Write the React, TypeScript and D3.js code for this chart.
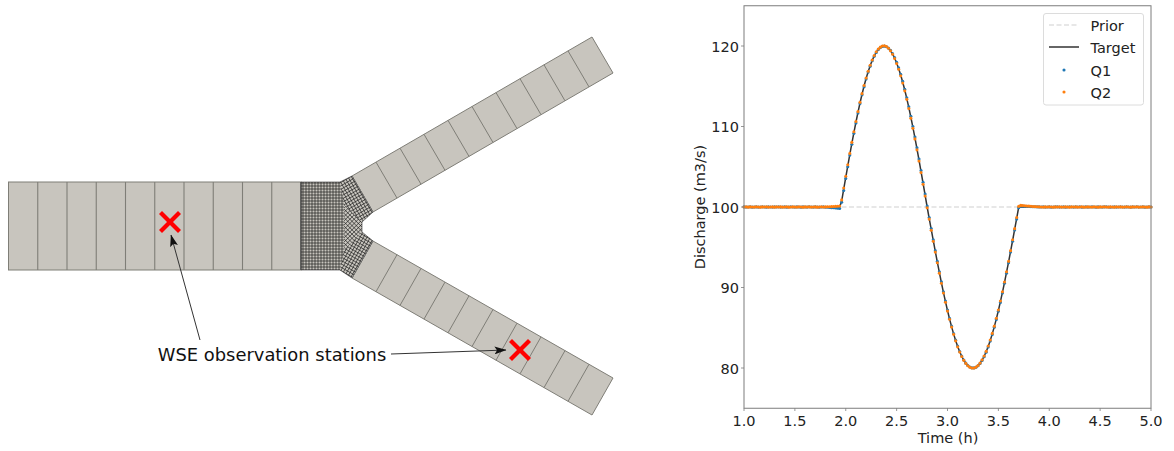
import React from "react";
import * as d3 from "d3";

// ---------- chart data ----------
const xTicks = [1.0, 1.5, 2.0, 2.5, 3.0, 3.5, 4.0, 4.5, 5.0];
const yTicks = [80, 90, 100, 110, 120];
const priorValues = [100, 100];
const priorTimes = [1, 5];
const sampleStep = 0.02;
const targetStart = [[1.0, 100], [1.94, 100]];
const targetEnd = [[3.72, 100], [5.0, 100]];
const targetCurve = [
  100.74, 102.21, 103.68, 105.12, 106.53, 107.91, 109.24, 110.53, 111.76, 112.92, 114.01, 115.03, 115.96, 116.81,
  117.56, 118.22, 118.78, 119.24, 119.59, 119.83, 119.97, 120.0, 119.91, 119.72, 119.43, 119.02, 118.51, 117.9,
  117.19, 116.39, 115.5, 114.53, 113.47, 112.35, 111.15, 109.89, 108.58, 107.22, 105.83, 104.4, 102.95, 101.48,
  100.0,
  98.6, 97.22, 95.84, 94.49, 93.16, 91.87, 90.61, 89.4, 88.24, 87.14, 86.11, 85.14, 84.24, 83.42, 82.68, 82.02,
  81.46, 80.98, 80.59, 80.3, 80.11, 80.01, 80.01, 80.11, 80.3, 80.59, 80.98, 81.46, 82.02, 82.68, 83.42, 84.24,
  85.14, 86.11, 87.14, 88.24, 89.4, 90.61, 91.87, 93.16, 94.49, 95.84, 97.22, 98.6, 100.0,
];
const q1Values = [
  100.02, 99.99, 100.0, 100.02, 99.98, 100.0, 100.01, 99.99, 100.0, 100.02, 100.0, 99.98, 100.01, 100.0, 99.99, 100.01,
  100.0, 100.02, 99.99, 100.0, 100.01, 99.98, 100.0, 100.02, 100.0, 99.99, 100.01, 100.0, 99.98, 100.01, 100.0, 99.99,
  100.02, 100.0, 99.99, 100.01, 100.0, 99.98, 100.0, 100.01, 99.97, 99.96, 99.94, 99.92, 99.9, 99.87, 99.84, 99.82,
  100.6, 102.05, 103.55, 105.0, 106.45, 107.8, 109.15, 110.45, 111.68, 112.85, 113.95, 114.95, 115.9, 116.76,
  117.5, 118.17, 118.74, 119.2, 119.55, 119.8, 119.95, 119.98, 119.9, 119.74, 119.47, 119.07, 118.58, 117.98,
  117.28, 116.48, 115.6, 114.63, 113.58, 112.46, 111.27, 110.0, 108.7, 107.35, 105.96, 104.53, 103.08, 101.6,
  100.12,
  98.7, 97.32, 95.93, 94.58, 93.25, 91.95, 90.7, 89.48, 88.31, 87.2, 86.16, 85.2, 84.29, 83.46, 82.72, 82.05,
  81.48, 81.0, 80.6, 80.31, 80.12, 80.02, 80.01, 80.1, 80.28, 80.56, 80.94, 81.41, 81.97, 82.62, 83.36, 84.17,
  85.07, 86.03, 87.06, 88.15, 89.31, 90.52, 91.78, 93.07, 94.4, 95.75, 97.13, 98.5, 99.9,
  100.14, 100.12, 100.1, 100.08, 100.06, 100.05, 100.04, 100.03, 100.02, 100.01, 100.0, 100.02, 99.99, 100.0, 100.01, 99.98,
  100.0, 100.01, 100.02, 99.99, 100.0, 100.01, 99.98, 100.0, 100.02, 100.0, 99.99, 100.01, 100.0, 100.02, 99.98, 100.0,
  100.01, 99.99, 100.0, 100.02, 100.0, 99.98, 100.01, 100.0, 99.99, 100.01, 100.02, 100.0, 99.98, 100.0, 100.01, 99.99,
  100.0, 100.02, 100.0, 99.99, 100.01, 100.0, 99.98, 100.01, 100.0, 100.02, 99.99, 100.0, 100.01, 99.98, 100.0, 100.01, 100.0,
];
const q2Values = [
  100.0, 100.02, 99.98, 100.01, 100.0, 99.99, 100.02, 100.0, 99.98, 100.01, 100.0, 100.02, 99.99, 100.0, 100.01, 99.98,
  100.02, 100.0, 100.01, 99.99, 100.0, 100.02, 99.98, 100.0, 100.01, 100.0, 99.99, 100.02, 100.0, 99.98, 100.01, 100.0,
  100.02, 99.99, 100.0, 100.01, 99.98, 100.0, 100.02, 100.0, 100.01, 100.03, 100.04, 100.05, 100.07, 100.08, 100.1, 100.12,
  100.88, 102.36, 103.82, 105.25, 106.66, 108.03, 109.35, 110.63, 111.85, 113.0, 114.08, 115.1, 116.02, 116.86,
  117.6, 118.26, 118.82, 119.28, 119.62, 119.86, 120.0, 120.03, 119.93, 119.72, 119.4, 118.98, 118.45, 117.83,
  117.11, 116.3, 115.41, 114.43, 113.37, 112.24, 111.04, 109.78, 108.46, 107.1, 105.71, 104.28, 102.83, 101.36,
  99.9,
  98.5, 97.12, 95.75, 94.4, 93.07, 91.78, 90.52, 89.32, 88.16, 87.07, 86.05, 85.08, 84.18, 83.37, 82.63, 81.98,
  81.43, 80.95, 80.57, 80.28, 80.09, 80.0, 80.0, 80.11, 80.31, 80.61, 81.01, 81.5, 82.06, 82.73, 83.47, 84.3,
  85.2, 86.18, 87.21, 88.32, 89.48, 90.69, 91.95, 93.25, 94.58, 95.93, 97.31, 98.7, 100.08,
  100.2, 100.18, 100.16, 100.13, 100.11, 100.09, 100.07, 100.05, 100.03, 100.02, 100.0, 99.99, 100.01, 100.0, 100.02, 100.0,
  99.98, 100.01, 100.0, 100.02, 99.99, 100.0, 100.01, 100.0, 99.98, 100.02, 100.0, 100.01, 99.99, 100.0, 100.02, 99.98,
  100.0, 100.01, 100.0, 99.99, 100.02, 100.0, 99.98, 100.01, 100.0, 100.02, 100.0, 99.99, 100.01, 100.0, 99.98, 100.02,
  100.0, 100.01, 99.99, 100.0, 100.02, 100.0, 99.98, 100.01, 100.0, 100.02, 99.99, 100.0, 100.01, 100.0, 99.98, 100.01, 100.0,
];
const legendLabels = ["Prior", "Target", "Q1", "Q2"];
const annotationText = "WSE observation stations";
const xLabel = "Time (h)";
const yLabel = "Discharge (m3/s)";

// ---------- schematic counts ----------
const mainCells = 10;
const branchCells = 10;
const meshPitch = 3.0;

const FONT = "'DejaVu Sans', sans-serif";
const CELL_FILL = "#c8c5be";
const CELL_LINE = "#7f7e77";
const C1 = "#1f77b4";
const C2 = "#ff7f0e";
const DOT_R = 1.55;
const FS = 14.5;

const pt = (p: number[]) => p.join(",");
const poly = (ps: number[][]) => ps.map(pt).join(" ");

function rotatedGrid(cx: number, cy: number, deg: number, r: number, pitch: number) {
  const a = (deg * Math.PI) / 180;
  const u = [Math.cos(a), Math.sin(a)];
  const v = [-Math.sin(a), Math.cos(a)];
  const offs = d3.range(-r, r + pitch, pitch);
  const path = d3.path();
  offs.forEach((o) => {
    path.moveTo(cx + u[0] * o - v[0] * r, cy + u[1] * o - v[1] * r);
    path.lineTo(cx + u[0] * o + v[0] * r, cy + u[1] * o + v[1] * r);
    path.moveTo(cx + v[0] * o - u[0] * r, cy + v[1] * o - u[1] * r);
    path.lineTo(cx + v[0] * o + u[0] * r, cy + v[1] * o + u[1] * r);
  });
  return path.toString();
}

function Branch({ a, b, end }: { a: number[]; b: number[]; end: number[] }) {
  const ax = d3.scaleLinear().domain([0, branchCells]).range([a[0], end[0]]);
  const ay = d3.scaleLinear().domain([0, branchCells]).range([a[1], end[1]]);
  const dx = b[0] - a[0];
  const dy = b[1] - a[1];
  return (
    <g>
      <polygon
        points={poly([a, end, [end[0] + dx, end[1] + dy], b])}
        fill={CELL_FILL}
        stroke={CELL_LINE}
        strokeWidth={1}
      />
      {d3.range(0, branchCells).map((i) => (
        <line
          key={i}
          x1={ax(i)}
          y1={ay(i)}
          x2={ax(i) + dx}
          y2={ay(i) + dy}
          stroke={CELL_LINE}
          strokeWidth={1}
        />
      ))}
    </g>
  );
}

function Cross({ cx, cy }: { cx: number; cy: number }) {
  const h = 9.5;
  return (
    <g stroke="#ff0000" strokeWidth={4.2}>
      <line x1={cx - h} y1={cy - h} x2={cx + h} y2={cy + h} />
      <line x1={cx - h} y1={cy + h} x2={cx + h} y2={cy - h} />
    </g>
  );
}

function Schematic() {
  const mx = d3.scaleLinear().domain([0, mainCells]).range([8.5, 301]);
  const top = 182;
  const bottom = 270;

  const upperA = [352, 176];
  const upperB = [373, 212];
  const upperEnd = [592, 37];
  const lowerA = [373, 241];
  const lowerB = [352, 278];
  const lowerEnd = [613, 378];

  const meshOutline = [
    [301, top], [340, top], upperA, upperB, [362, 222], [362, 232], lowerA, lowerB, [340, bottom], [301, bottom],
  ];
  const leftPart = [[301, top], [340, top], [344, 205], [344, 250], [340, bottom], [301, bottom]];
  const upperPart = [[340, top], upperA, upperB, [362, 222], [344, 205]];
  const lowerPart = [[344, 250], [362, 232], lowerA, lowerB, [340, bottom]];
  const midPart = [[344, 205], [362, 222], [362, 232], [344, 250]];

  return (
    <g>
      <defs>
        <clipPath id="m-left"><polygon points={poly(leftPart)} /></clipPath>
        <clipPath id="m-up"><polygon points={poly(upperPart)} /></clipPath>
        <clipPath id="m-low"><polygon points={poly(lowerPart)} /></clipPath>
        <clipPath id="m-mid"><polygon points={poly(midPart)} /></clipPath>
        <marker id="arrow" viewBox="0 0 12 8" refX="11.5" refY="4" markerWidth="12" markerHeight="8" markerUnits="userSpaceOnUse" orient="auto">
          <path d="M0,0 L12,4 L0,8 L2.5,4 Z" fill="#111" />
        </marker>
      </defs>

      <rect x={mx(0)} y={top} width={mx(mainCells) - mx(0)} height={bottom - top} fill={CELL_FILL} stroke={CELL_LINE} strokeWidth={1} />
      {d3.range(1, mainCells).map((i) => (
        <line key={i} x1={mx(i)} x2={mx(i)} y1={top} y2={bottom} stroke={CELL_LINE} strokeWidth={1.1} />
      ))}

      <Branch a={upperA} b={upperB} end={upperEnd} />
      <Branch a={lowerA} b={lowerB} end={lowerEnd} />

      <polygon points={poly(meshOutline)} fill={CELL_FILL} stroke="#666" strokeWidth={0.8} />
      <g stroke="#1c1c1c" strokeWidth={0.7} fill="none">
        <path clipPath="url(#m-left)" d={rotatedGrid(325, 226, 0, 70, meshPitch)} />
        <path clipPath="url(#m-up)" d={rotatedGrid(355, 195, -30, 60, meshPitch)} />
        <path clipPath="url(#m-low)" d={rotatedGrid(355, 258, 30, 60, meshPitch)} />
        <path clipPath="url(#m-mid)" d={rotatedGrid(352, 227, 45, 40, meshPitch)} />
      </g>
      <line x1={301} x2={301} y1={top} y2={bottom} stroke="#333" strokeWidth={1} />

      <Cross cx={170} cy={222} />
      <Cross cx={520} cy={350} />

      <text x={272} y={361} fontFamily={FONT} fontSize={17.9} textAnchor="middle" fill="#111">{annotationText}</text>
      <line x1={200} y1={340} x2={171} y2={235} stroke="#333" strokeWidth={1} markerEnd="url(#arrow)" />
      <line x1={391} y1={354} x2={506} y2={350} stroke="#333" strokeWidth={1} markerEnd="url(#arrow)" />
    </g>
  );
}

function Chart() {
  const x = d3.scaleLinear().domain([1, 5]).range([744, 1151]);
  const y = d3.scaleLinear().domain([75, 125]).range([408.25, 5.75]);
  const times = d3.range(q1Values.length).map((i) => 1 + i * sampleStep);
  const curveStart = 48;
  const targetPts = [
    ...targetStart,
    ...targetCurve.map((v, i) => [times[curveStart + i], v]),
    ...targetEnd,
  ];
  const line = d3.line<number[]>().x((d) => x(d[0])).y((d) => y(d[1]));
  const priorPts = priorTimes.map((t, i) => [t, priorValues[i]]);
  const ink = "#222";
  const spine = "#7c7c7c";
  const legendRows = [25, 47, 70, 92];
  return (
    <g>
      <path d={line(priorPts) ?? ""} fill="none" stroke="#cfcfcf" strokeWidth={1} strokeDasharray="5 2.5" />
      <path d={line(targetPts) ?? ""} fill="none" stroke="#333" strokeWidth={1.5} />
      {q1Values.map((v, i) => (
        <circle key={i} cx={x(times[i])} cy={y(v)} r={DOT_R} fill={C1} />
      ))}
      {q2Values.map((v, i) => (
        <circle key={i} cx={x(times[i])} cy={y(v)} r={DOT_R} fill={C2} />
      ))}

      <rect x={744} y={5.75} width={407} height={402.5} fill="none" stroke={spine} strokeWidth={1} />
      {xTicks.map((t) => (
        <g key={t}>
          <line x1={x(t)} x2={x(t)} y1={408.25} y2={411} stroke={spine} strokeWidth={0.8} />
          <text x={x(t)} y={426} textAnchor="middle" fontFamily={FONT} fontSize={FS} fill={ink}>{t.toFixed(1)}</text>
        </g>
      ))}
      {yTicks.map((t) => (
        <g key={t}>
          <line x1={741} x2={744} y1={y(t)} y2={y(t)} stroke={spine} strokeWidth={0.8} />
          <text x={739} y={y(t) + 5.5} textAnchor="end" fontFamily={FONT} fontSize={FS} fill={ink}>{t}</text>
        </g>
      ))}
      <text x={948} y={443} textAnchor="middle" fontFamily={FONT} fontSize={FS} fill={ink}>{xLabel}</text>
      <text transform={`translate(705,207) rotate(-90)`} textAnchor="middle" fontFamily={FONT} fontSize={FS} fill={ink}>{yLabel}</text>

      <rect x={1043.5} y={13.5} width={100} height={91.5} rx={2.5} fill="#fff" fillOpacity={0.85} stroke="#dcdcdc" strokeWidth={1} />
      <line x1={1049} x2={1079} y1={legendRows[0]} y2={legendRows[0]} stroke="#cfcfcf" strokeWidth={1} strokeDasharray="5 2.5" />
      <line x1={1049} x2={1079} y1={legendRows[1]} y2={legendRows[1]} stroke="#333" strokeWidth={1.5} />
      <circle cx={1064} cy={legendRows[2]} r={DOT_R} fill={C1} />
      <circle cx={1064} cy={legendRows[3]} r={DOT_R} fill={C2} />
      {legendLabels.map((l, i) => (
        <text key={l} x={1090.5} y={legendRows[i] + 5.5} fontFamily={FONT} fontSize={FS} fill={ink}>{l}</text>
      ))}
    </g>
  );
}

export default function App() {
  return (
    <svg
      width={1174}
      height={451}
      viewBox="0 0 1174 451"
      style={{ position: "absolute", left: 0, top: 0, display: "block", background: "#fff" }}
    >
      <Schematic />
      <Chart />
    </svg>
  );
}
